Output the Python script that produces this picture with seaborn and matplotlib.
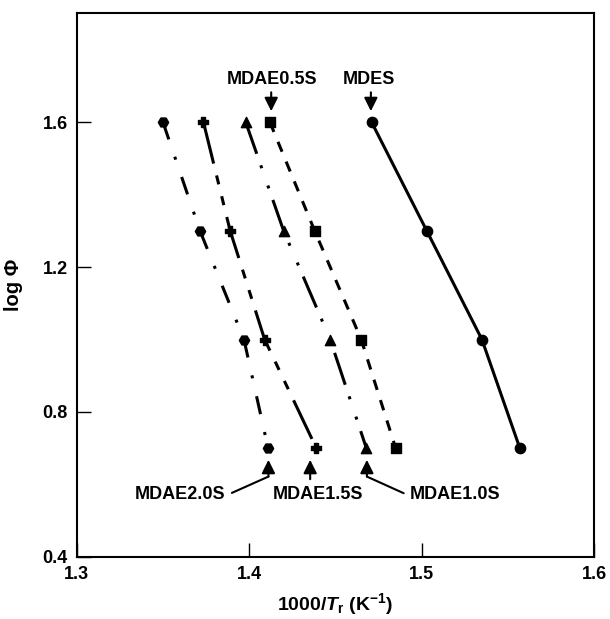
import pandas as pd
import matplotlib.pyplot as plt
import seaborn as sns

# log(Phi) levels shared by every series
log_phi = [1.6, 1.3, 1.0, 0.7]

# 1000/Tr for each sample
mdes = [1.471, 1.503, 1.535, 1.557]
mdae05 = [1.412, 1.438, 1.465, 1.485]
mdae10 = [1.398, 1.420, 1.447, 1.468]
mdae15 = [1.3735, 1.389, 1.409, 1.439]
mdae20 = [1.350, 1.3715, 1.397, 1.411]

names = ["MDES", "MDAE0.5S", "MDAE1.0S", "MDAE1.5S", "MDAE2.0S"]
series = [mdes, mdae05, mdae10, mdae15, mdae20]

rows = []
for name, xs in zip(names, series):
    for x, y in zip(xs, log_phi):
        rows.append({"sample": name, "invT": x, "logphi": y})
df = pd.DataFrame(rows)

sns.set_style("ticks")
plt.rcParams["font.family"] = ["Liberation Sans", "DejaVu Sans"]
plt.rcParams["font.weight"] = "bold"
plt.rcParams["text.color"] = "black"
plt.rcParams["axes.labelcolor"] = "black"
plt.rcParams["xtick.color"] = "black"
plt.rcParams["ytick.color"] = "black"
plt.rcParams["mathtext.fontset"] = "custom"
plt.rcParams["mathtext.rm"] = "Liberation Sans:bold"
plt.rcParams["mathtext.bf"] = "Liberation Sans:bold"
plt.rcParams["mathtext.it"] = "Liberation Sans:italic:bold"

fig = plt.figure(figsize=(6.1, 6.19), dpi=100)
ax = fig.add_axes([0.1257, 0.1002, 0.8481, 0.8783])

# marker, dash pattern (in linewidth units, None = solid), marker size
styles = {
    "MDES": ("o", None, 55),
    "MDAE0.5S": ("s", (3.5, 3.5), 60),
    "MDAE1.0S": ("^", (11, 4, 1, 6, 1, 4), 55),
    "MDAE1.5S": ("P", (14, 4, 3, 4, 3, 4), 55),
    "MDAE2.0S": ("H", (6, 6, 1, 6), 55),
}

for name in names:
    sub = df[df["sample"] == name]
    marker, dash, size = styles[name]
    sns.lineplot(data=sub, x="invT", y="logphi", sort=False, estimator=None,
                 color="black", linewidth=2.2, ax=ax)
    line = ax.lines[-1]
    if dash is not None:
        line.set_dashes(dash)
    sns.scatterplot(data=sub, x="invT", y="logphi", marker=marker, s=size,
                    color="black", edgecolor="black", linewidth=1, ax=ax, zorder=3)

arrow = dict(arrowstyle="-|>,head_length=0.8,head_width=0.4", mutation_scale=10,
             color="black", lw=1.5, shrinkA=0, shrinkB=0)
lab = dict(fontsize=13, fontweight="bold", ha="center", va="center", color="black")

# top labels
ax.text(1.4133, 1.718, "MDAE0.5S", **lab)
ax.annotate("", xy=(1.4128, 1.63), xytext=(1.4128, 1.682), arrowprops=arrow)
ax.text(1.4697, 1.716, "MDES", **lab)
ax.annotate("", xy=(1.4706, 1.63), xytext=(1.4706, 1.682), arrowprops=arrow)

# bottom labels
ax.text(1.360, 0.5735, "MDAE2.0S", **lab)
ax.plot([1.390, 1.4112], [0.5768, 0.6218], color="black", lw=1.5)
ax.annotate("", xy=(1.4112, 0.668), xytext=(1.4112, 0.6218), arrowprops=arrow)

ax.text(1.4398, 0.5735, "MDAE1.5S", **lab)
ax.annotate("", xy=(1.4354, 0.668), xytext=(1.4354, 0.6146), arrowprops=arrow)

ax.text(1.5195, 0.5735, "MDAE1.0S", **lab)
ax.plot([1.4896, 1.4683], [0.576, 0.6218], color="black", lw=1.5)
ax.annotate("", xy=(1.4683, 0.668), xytext=(1.4683, 0.6218), arrowprops=arrow)

ax.set_xlim(1.3, 1.6)
ax.set_ylim(0.4, 1.9)
ax.set_xticks([1.3, 1.4, 1.5, 1.6])
ax.set_yticks([0.4, 0.8, 1.2, 1.6])
ax.set_xticklabels(["1.3", "1.4", "1.5", "1.6"])
ax.set_yticklabels(["0.4", "0.8", "1.2", "1.6"])
ax.tick_params(direction="in", length=10, width=1, labelsize=13, pad=6.5)
for sp in ax.spines.values():
    sp.set_visible(True)
    sp.set_linewidth(1.5)
    sp.set_color("black")

ax.set_xlabel(r"1000/$T_{\rm r}$ (K$^{-1}$)", fontsize=14, fontweight="bold", labelpad=6)
ax.set_ylabel("log Φ", fontsize=14.5, fontweight="bold", labelpad=14)

plt.savefig("out.png", dpi=100)
